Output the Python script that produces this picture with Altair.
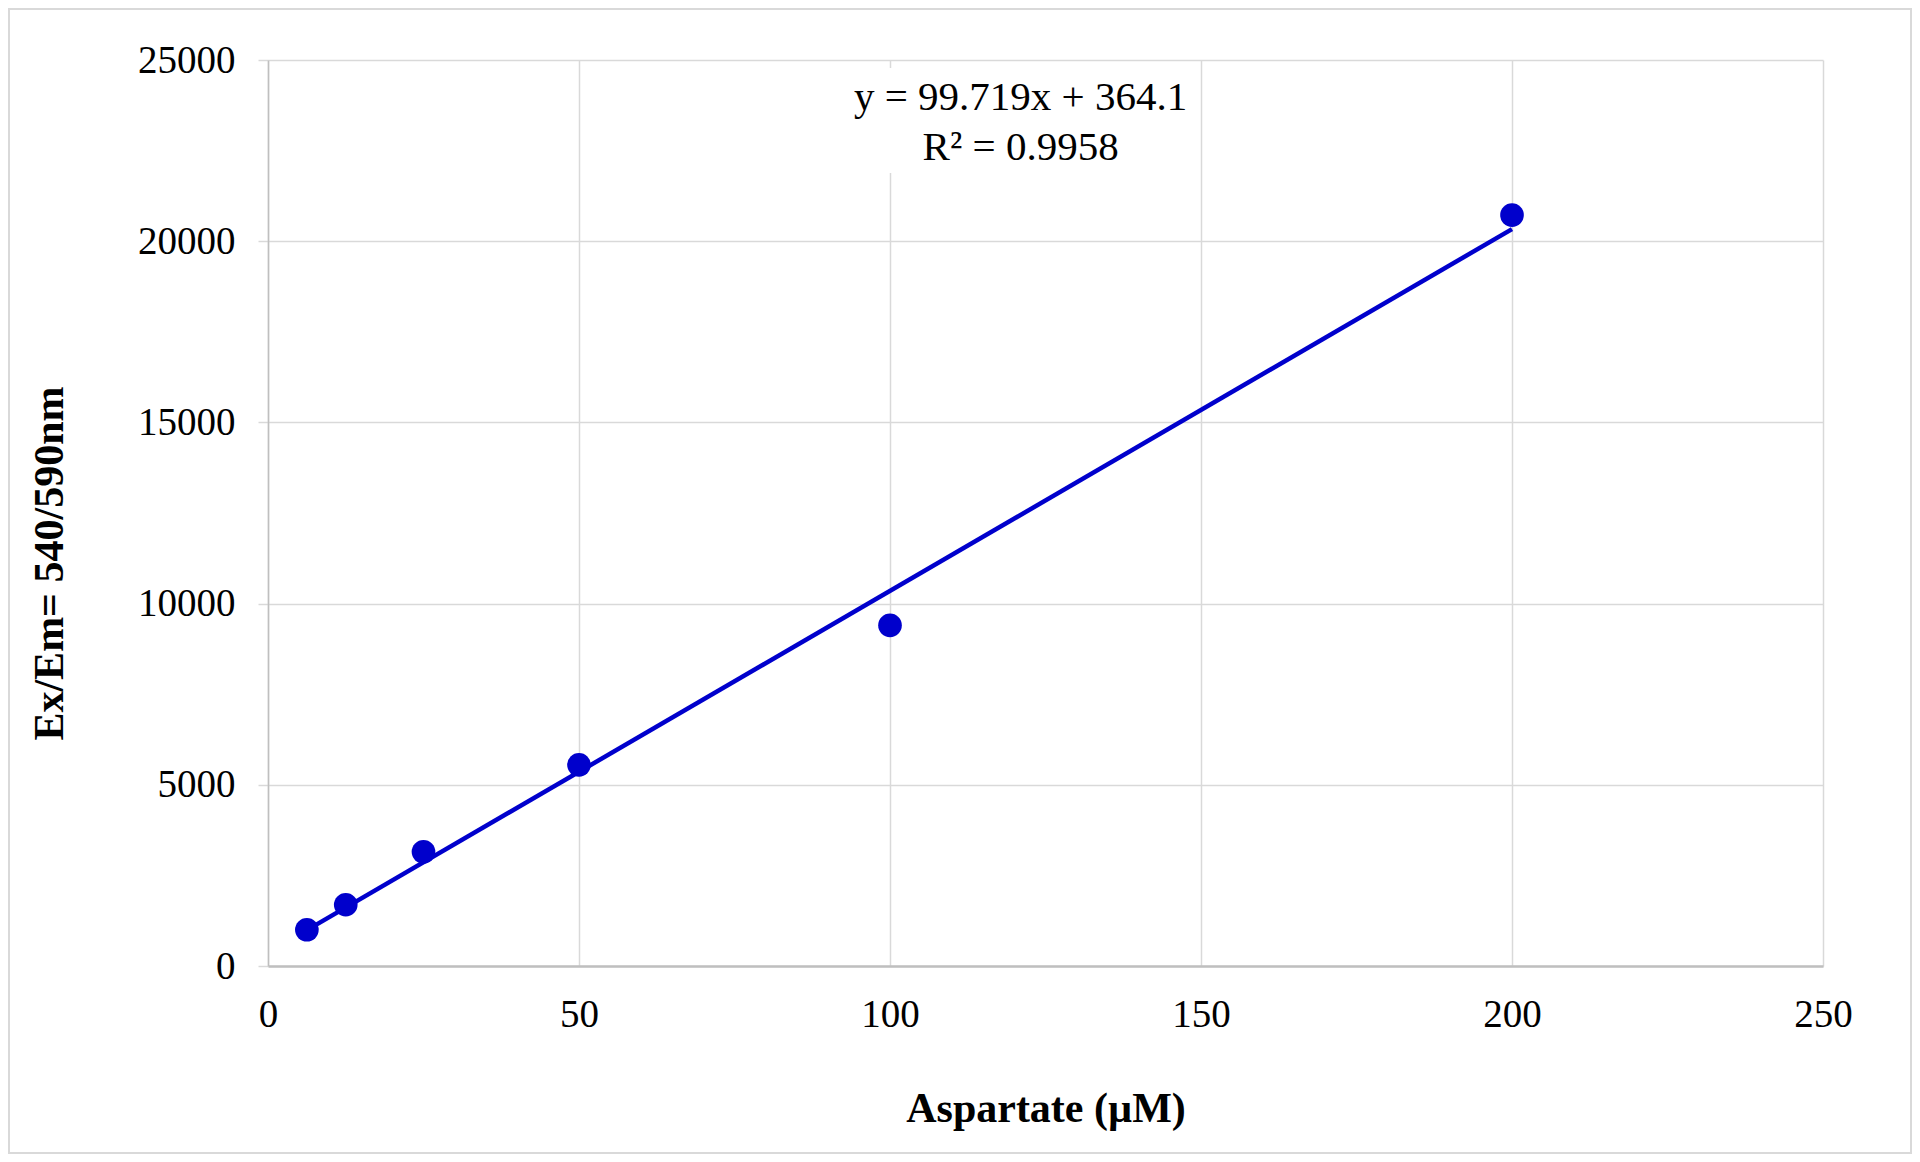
import altair as alt
import pandas as pd

# Data
aspartate = [6.25, 12.5, 25, 50, 100, 200]
signal = [1000, 1690, 3150, 5550, 9400, 20720]

eq_lines = ["y = 99.719x + 364.1", "R² = 0.9958"]
eq_x = [121, 121]
eq_y = [23950, 22580]
box_x = [92.5]
box_x2 = [149.5]
box_y = [21880]
box_y2 = [24780]

df = pd.DataFrame({"x": aspartate, "y": signal})
eq_df = pd.DataFrame({"label": eq_lines, "x": eq_x, "y": eq_y})
box_df = pd.DataFrame({"x": box_x, "x2": box_x2, "y": box_y, "y2": box_y2})

W, H = 1555, 906
PL, PT, PR, PB = 260, 52, 89, 188
FONT = "Liberation Serif"
BLUE = "#0000CC"

xs = alt.Scale(domain=[0, 250], nice=False)
ys = alt.Scale(domain=[0, 25000], nice=False)

x_axis = alt.Axis(
    values=[0, 50, 100, 150, 200, 250], title="Aspartate (µM)",
    grid=True, gridColor="#d9d9d9", gridWidth=1.5,
    ticks=False, domainColor="#bfbfbf", domainWidth=2.5,
    labelFont=FONT, labelFontSize=39, labelColor="black", labelPadding=29,
    labelFlush=False,
    titleFont=FONT, titleFontSize=42, titleFontWeight="bold", titleColor="black",
    titleY=142, titleBaseline="middle", titleAnchor="middle",
)
y_axis = alt.Axis(
    values=[0, 5000, 10000, 15000, 20000, 25000], title="Ex/Em= 540/590nm",
    grid=True, gridColor="#d9d9d9", gridWidth=1.5,
    ticks=True, tickSize=10, tickColor="#d9d9d9", tickWidth=1.5,
    domainColor="#bfbfbf", domainWidth=1.5,
    labelFont=FONT, labelFontSize=39, labelColor="black", labelPadding=23,
    labelFlush=False, format="d",
    titleFont=FONT, titleFontSize=42, titleFontWeight="bold", titleColor="black",
    titleX=-219, titleY=503, titleAngle=-90, titleAlign="center",
    titleBaseline="middle",
)

base = alt.Chart(df)

points = base.mark_circle(size=560, color=BLUE, opacity=1).encode(
    x=alt.X("x:Q", scale=xs, axis=x_axis),
    y=alt.Y("y:Q", scale=ys, axis=y_axis),
)

trend = base.transform_regression("x", "y").mark_line(
    color=BLUE, strokeWidth=4.5
).encode(
    x=alt.X("x:Q", scale=xs),
    y=alt.Y("y:Q", scale=ys),
)

box = alt.Chart(box_df).mark_rect(color="white").encode(
    x=alt.X("x:Q", scale=xs), x2="x2:Q",
    y=alt.Y("y:Q", scale=ys), y2="y2:Q",
)

eq_text = alt.Chart(eq_df).mark_text(
    font=FONT, fontSize=41, color="black", align="center", baseline="middle"
).encode(
    x=alt.X("x:Q", scale=xs),
    y=alt.Y("y:Q", scale=ys),
    text="label:N",
)

border = alt.Chart(pd.DataFrame({"a": [0]})).mark_rect(
    filled=False, stroke="#d9d9d9", strokeWidth=2, clip=False
).encode(
    x=alt.value(-PL + 1), x2=alt.value(W + PR - 1),
    y=alt.value(-PT + 1), y2=alt.value(H + PB - 1),
)

chart = alt.layer(border, points, trend, box, eq_text).properties(
    width=W, height=H,
    autosize=alt.AutoSizeParams(type="none"),
    padding={"left": PL, "top": PT, "right": PR, "bottom": PB},
    background="white",
).configure_view(stroke=None)

chart.save("out.html", embed_options={"renderer": "svg", "actions": False})
